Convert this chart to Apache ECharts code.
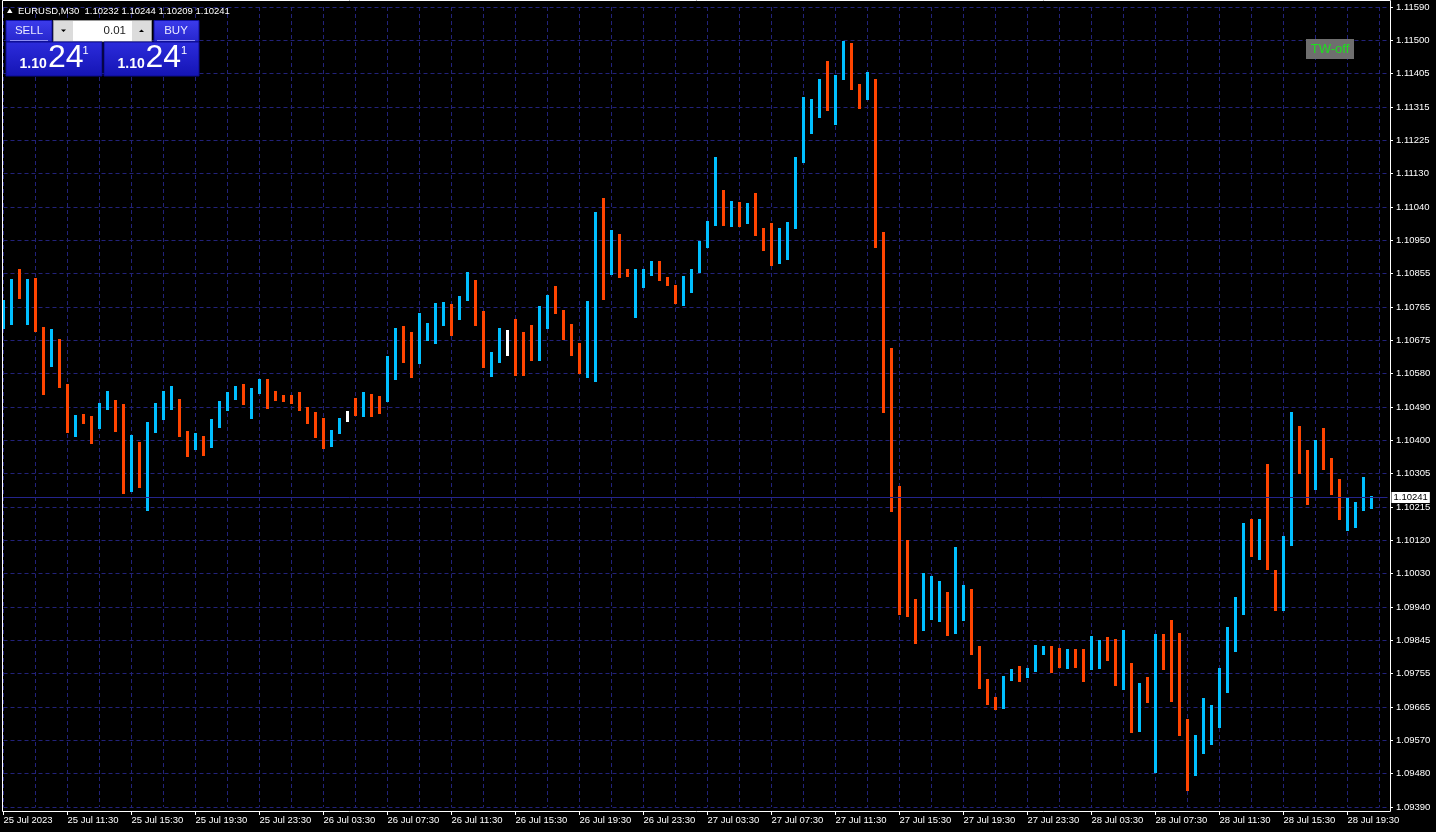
<!DOCTYPE html>
<html><head><meta charset="utf-8">
<script src="https://cdn.jsdelivr.net/npm/echarts@6/dist/echarts.min.js"></script>
<style>html,body{margin:0;padding:0;background:#000;overflow:hidden}#c{width:1436px;height:832px}</style>
</head><body><div id="c"></div>
<script>
// ---- data (EURUSD M30, 25 Jul 2023 07:30 .. 28 Jul 2023 21:00) ----
const highs = [
1.10784,1.10842,1.10870,1.10842,1.10845,1.10710,1.10705,1.10677,1.10553,1.10468,
1.10471,1.10465,1.10501,1.10534,1.10509,1.10498,1.10413,1.10394,1.10449,1.10501,
1.10534,1.10548,1.10512,1.10424,1.10419,1.10410,1.10457,1.10507,1.10531,1.10548,
1.10553,1.10542,1.10567,1.10567,1.10534,1.10523,1.10523,1.10531,1.10490,1.10476,
1.10460,1.10427,1.10460,1.10479,1.10515,1.10531,1.10526,1.10520,1.10630,1.10707,
1.10713,1.10696,1.10749,1.10721,1.10776,1.10779,1.10773,1.10795,1.10861,1.10839,
1.10754,1.10641,1.10707,1.10702,1.10732,1.10696,1.10716,1.10768,1.10798,1.10823,
1.10757,1.10718,1.10666,1.10782,1.11026,1.11065,1.10977,1.10966,1.10870,1.10870,
1.10870,1.10892,1.10892,1.10848,1.10826,1.10850,1.10870,1.10947,1.11002,1.11178,
1.11087,1.11057,1.11054,1.11051,1.11079,1.10982,1.10996,1.10982,1.10999,1.11178,
1.11343,1.11337,1.11392,1.11442,1.11403,1.11497,1.11491,1.11378,1.11411,1.11392,
1.10971,1.10652,1.10273,1.10124,1.09962,1.10034,1.10025,1.10012,1.09981,1.10105,
1.10001,1.09990,1.09833,1.09742,1.09693,1.09750,1.09770,1.09778,1.09772,1.09836,
1.09833,1.09833,1.09827,1.09825,1.09825,1.09825,1.09860,1.09849,1.09858,1.09852,
1.09877,1.09786,1.09731,1.09748,1.09866,1.09866,1.09904,1.09869,1.09632,1.09588,
1.09690,1.09671,1.09772,1.09885,1.09968,1.10171,1.10182,1.10182,1.10333,1.10042,
1.10135,1.10476,1.10438,1.10372,1.10399,1.10432,1.10350,1.10292,1.10243,1.10229,
1.10298,1.10244];
const lows = [
1.10705,1.10716,1.10787,1.10716,1.10696,1.10523,1.10600,1.10542,1.10419,1.10408,
1.10443,1.10388,1.10430,1.10482,1.10421,1.10251,1.10256,1.10267,1.10204,1.10419,
1.10454,1.10482,1.10408,1.10353,1.10372,1.10355,1.10377,1.10432,1.10479,1.10509,
1.10496,1.10457,1.10526,1.10485,1.10507,1.10504,1.10498,1.10479,1.10443,1.10405,
1.10375,1.10380,1.10416,1.10449,1.10465,1.10463,1.10463,1.10471,1.10504,1.10564,
1.10611,1.10570,1.10608,1.10672,1.10663,1.10713,1.10685,1.10729,1.10782,1.10713,
1.10597,1.10573,1.10611,1.10630,1.10575,1.10575,1.10617,1.10617,1.10705,1.10746,
1.10674,1.10630,1.10581,1.10570,1.10559,1.10784,1.10853,1.10845,1.10848,1.10735,
1.10817,1.10850,1.10837,1.10823,1.10773,1.10768,1.10804,1.10859,1.10927,1.10988,
1.10988,1.10985,1.10985,1.10993,1.10960,1.10919,1.10878,1.10883,1.10894,1.10980,
1.11161,1.11241,1.11285,1.11304,1.11266,1.11389,1.11362,1.11310,1.11334,1.10927,
1.10474,1.10201,1.09918,1.09913,1.09838,1.09874,1.09904,1.09899,1.09860,1.09866,
1.09902,1.09808,1.09715,1.09671,1.09657,1.09660,1.09737,1.09734,1.09745,1.09761,
1.09808,1.09759,1.09772,1.09770,1.09772,1.09734,1.09767,1.09770,1.09792,1.09723,
1.09712,1.09594,1.09596,1.09676,1.09484,1.09767,1.09679,1.09585,1.09434,1.09475,
1.09536,1.09561,1.09607,1.09704,1.09816,1.09918,1.10078,1.10069,1.10042,1.09929,
1.09929,1.10108,1.10306,1.10221,1.10262,1.10317,1.10248,1.10179,1.10149,1.10157,
1.10204,1.10209];
// u = up bar, d = down bar, n = unchanged
const dirs = [
'u','u','d','u','d','d','u','d','d','u',
'd','d','u','u','d','d','u','d','u','u',
'u','u','d','d','u','d','u','u','u','u',
'd','u','u','d','d','d','d','d','d','d',
'd','u','u','n','d','u','d','d','u','u',
'd','d','u','u','u','u','d','u','u','d',
'd','u','u','n','d','d','d','u','u','d',
'd','d','d','u','u','d','u','d','d','u',
'u','u','d','d','d','u','u','u','u','u',
'd','u','d','u','d','d','d','u','u','u',
'u','u','u','d','u','u','d','d','u','d',
'd','d','d','d','d','u','u','u','d','u',
'u','d','d','d','d','u','u','d','u','u',
'u','d','d','u','d','d','u','u','d','d',
'u','d','u','d','u','d','d','d','d','u',
'u','u','u','u','u','u','d','u','d','d',
'u','u','d','d','u','d','d','d','u','u',
'u','u'];
const xTickLabels = ['25 Jul 2023','25 Jul 11:30','25 Jul 15:30','25 Jul 19:30','25 Jul 23:30',
 '26 Jul 03:30','26 Jul 07:30','26 Jul 11:30','26 Jul 15:30','26 Jul 19:30','26 Jul 23:30',
 '27 Jul 03:30','27 Jul 07:30','27 Jul 11:30','27 Jul 15:30','27 Jul 19:30','27 Jul 23:30',
 '28 Jul 03:30','28 Jul 07:30','28 Jul 11:30','28 Jul 15:30','28 Jul 19:30'];
const yTickLabels = ['1.09390','1.09480','1.09570','1.09665','1.09755','1.09845','1.09940','1.10030',
 '1.10120','1.10215','1.10305','1.10400','1.10490','1.10580','1.10675','1.10765','1.10855','1.10950',
 '1.11040','1.11130','1.11225','1.11315','1.11405','1.11500','1.11590'];
const yMin = 1.0939, yMax = 1.1159;
const lastPrice = 1.10241;
const headerText = 'EURUSD,M30  1.10232 1.10244 1.10209 1.10241';

// ---- build ----
const categories = [];
const t0 = Date.UTC(2023, 6, 25, 7, 30);
for (let i = 0; i < highs.length; i++) {
  const d = new Date(t0 + i * 1800000);
  categories.push(d.toISOString().slice(0, 16).replace('T', ' '));
}
categories.push('', ''); // chart shift space on the right

const UP = '#00bfff', DOWN = '#ff4500', FLAT = '#ffffff';
const GRID = '#22227a';
const FONT = 'Liberation Sans';
const yStep = (yMax - yMin) / (yTickLabels.length - 1);

const barData = highs.map((h, i) => [i, h, lows[i]]);

const chart = echarts.init(document.getElementById('c'), null, {renderer: 'canvas'});

function txt(x, y, text, font, fill, align, valign) {
  return {type: 'text', x: x, y: y, z: 100, silent: true,
    style: {text: text, font: font, fill: fill, align: align || 'left', verticalAlign: valign || 'middle',
            textAlign: align || 'left', textVerticalAlign: valign || 'middle'}};
}
const boxGrad = new echarts.graphic.LinearGradient(0, 0, 0, 1, [
  {offset: 0, color: '#2c2cdc'}, {offset: 1, color: '#1414b4'}]);
const btnGrad = new echarts.graphic.LinearGradient(0, 0, 0, 1, [
  {offset: 0, color: '#3c3cec'}, {offset: 1, color: '#2626cc'}]);

const graphics = [
  // chart frame
  {type: 'rect', z: 50, silent: true, shape: {x: 2.5, y: 0.5, width: 1388, height: 811},
   style: {fill: null, stroke: '#ffffff', lineWidth: 1}},
  // header
  {type: 'polygon', z: 100, silent: true, shape: {points: [[7, 13], [12.5, 13], [9.75, 8.5]]}, style: {fill: '#ffffff'}},
  txt(18, 11, headerText, '9.5px ' + FONT, '#ffffff'),
  // SELL button
  {type: 'rect', z: 99, silent: true, shape: {x: 6, y: 20.5, width: 46, height: 21}, style: {fill: btnGrad, stroke: '#1010a0', lineWidth: 1}},
  {type: 'line', z: 100, silent: true, shape: {x1: 10, y1: 40.5, x2: 48, y2: 40.5}, style: {stroke: '#8c8cf4', lineWidth: 1}},
  txt(29, 31, 'SELL', '11.5px ' + FONT, '#e8e8ff', 'center'),
  // lot field
  {type: 'rect', z: 99, silent: true, shape: {x: 53.5, y: 20.5, width: 98, height: 21}, style: {fill: '#ffffff', stroke: '#9a9a9a', lineWidth: 1}},
  {type: 'rect', z: 99, silent: true, shape: {x: 54, y: 21, width: 19, height: 20}, style: {fill: '#dcdcdc'}},
  {type: 'rect', z: 99, silent: true, shape: {x: 132, y: 21, width: 19, height: 20}, style: {fill: '#dcdcdc'}},
  {type: 'polygon', z: 100, silent: true, shape: {points: [[61, 29.5], [66, 29.5], [63.5, 32]]}, style: {fill: '#000000'}},
  {type: 'polygon', z: 100, silent: true, shape: {points: [[139, 32], [144, 32], [141.5, 29.5]]}, style: {fill: '#000000'}},
  txt(126, 31, '0.01', '11.5px ' + FONT, '#222222', 'right'),
  // BUY button
  {type: 'rect', z: 99, silent: true, shape: {x: 154, y: 20.5, width: 45, height: 21}, style: {fill: btnGrad, stroke: '#1010a0', lineWidth: 1}},
  {type: 'line', z: 100, silent: true, shape: {x1: 157, y1: 40.5, x2: 195, y2: 40.5}, style: {stroke: '#8c8cf4', lineWidth: 1}},
  txt(176, 31, 'BUY', '11.5px ' + FONT, '#e8e8ff', 'center'),
  // price boxes
  {type: 'rect', z: 99, silent: true, shape: {x: 6, y: 42, width: 96, height: 34}, style: {fill: boxGrad, stroke: '#0c0c90', lineWidth: 1}},
  {type: 'rect', z: 99, silent: true, shape: {x: 104, y: 42, width: 95, height: 34}, style: {fill: boxGrad, stroke: '#0c0c90', lineWidth: 1}},
  txt(19.5, 64.5, '1.10', 'bold 14px ' + FONT, '#ffffff'),
  txt(48, 58.5, '24', '32px ' + FONT, '#ffffff'),
  txt(82.5, 51, '1', '11px ' + FONT, '#ffffff'),
  txt(117.5, 64.5, '1.10', 'bold 14px ' + FONT, '#ffffff'),
  txt(145.5, 58.5, '24', '32px ' + FONT, '#ffffff'),
  txt(181, 51, '1', '11px ' + FONT, '#ffffff'),
  // TW-off badge
  {type: 'rect', z: 99, silent: true, shape: {x: 1306, y: 39, width: 48, height: 20}, style: {fill: '#6e6e6e'}},
  txt(1330, 49.5, 'TW-off', '13px ' + FONT, '#1ee01e', 'center')
];

const option = {
  backgroundColor: '#000000',
  animation: false,
  grid: {left: 3.5, top: 7, width: 1384, height: 800, containLabel: false},
  xAxis: {
    type: 'category', data: categories, boundaryGap: false, offset: 4,
    axisLine: {show: false},
    axisTick: {show: true, interval: 7, length: 4, lineStyle: {color: '#ffffff'}},
    axisLabel: {show: true, interval: 7, align: 'left', margin: 4, color: '#ffffff',
      fontFamily: FONT, fontSize: 9.5,
      formatter: (v, idx) => (idx % 8 === 0 && xTickLabels[idx / 8]) ? xTickLabels[idx / 8] : ''},
    splitLine: {show: true, interval: 3, lineStyle: {color: GRID, type: [4, 3], width: 1}}
  },
  yAxis: {
    type: 'value', position: 'right', offset: 2.5, min: yMin, max: yMax, interval: yStep, scale: true,
    axisLine: {show: false},
    axisTick: {show: true, length: 3, lineStyle: {color: '#ffffff'}},
    axisLabel: {show: true, margin: 6, color: '#ffffff', fontFamily: FONT, fontSize: 9.5,
      formatter: (v) => { const k = Math.round((v - yMin) / yStep); return yTickLabels[k] || ''; }},
    splitLine: {show: true, lineStyle: {color: GRID, type: [4, 3], width: 1}}
  },
  series: [{
    type: 'custom',
    data: barData,
    encode: {x: 0, y: [1, 2]},
    clip: false,
    renderItem: function (params, api) {
      const i = api.value(0);
      const top = api.coord([i, api.value(1)]);
      const bot = api.coord([i, api.value(2)]);
      const x = Math.round(top[0] - 1.5);
      const y = Math.round(top[1]);
      const h = Math.max(1, Math.round(bot[1]) - y);
      const d = dirs[params.dataIndex];
      return {type: 'rect', shape: {x: x, y: y, width: 3, height: h},
        style: {fill: d === 'u' ? UP : (d === 'd' ? DOWN : FLAT)}};
    }
  }, {
    type: 'line',
    data: [],
    symbol: 'none',
    markLine: {
      silent: true, symbol: 'none', animation: false, precision: 5,
      lineStyle: {color: '#24248c', type: 'solid', width: 1},
      label: {show: true, position: 'end', distance: 4, formatter: lastPrice.toFixed(5),
        backgroundColor: '#ffffff', color: '#000000', fontFamily: FONT, fontSize: 9.5, padding: [1, 2, 0, 2]},
      data: [{yAxis: lastPrice}]
    }
  }],
  graphic: {elements: graphics}
};
chart.setOption(option);
</script></body></html>
